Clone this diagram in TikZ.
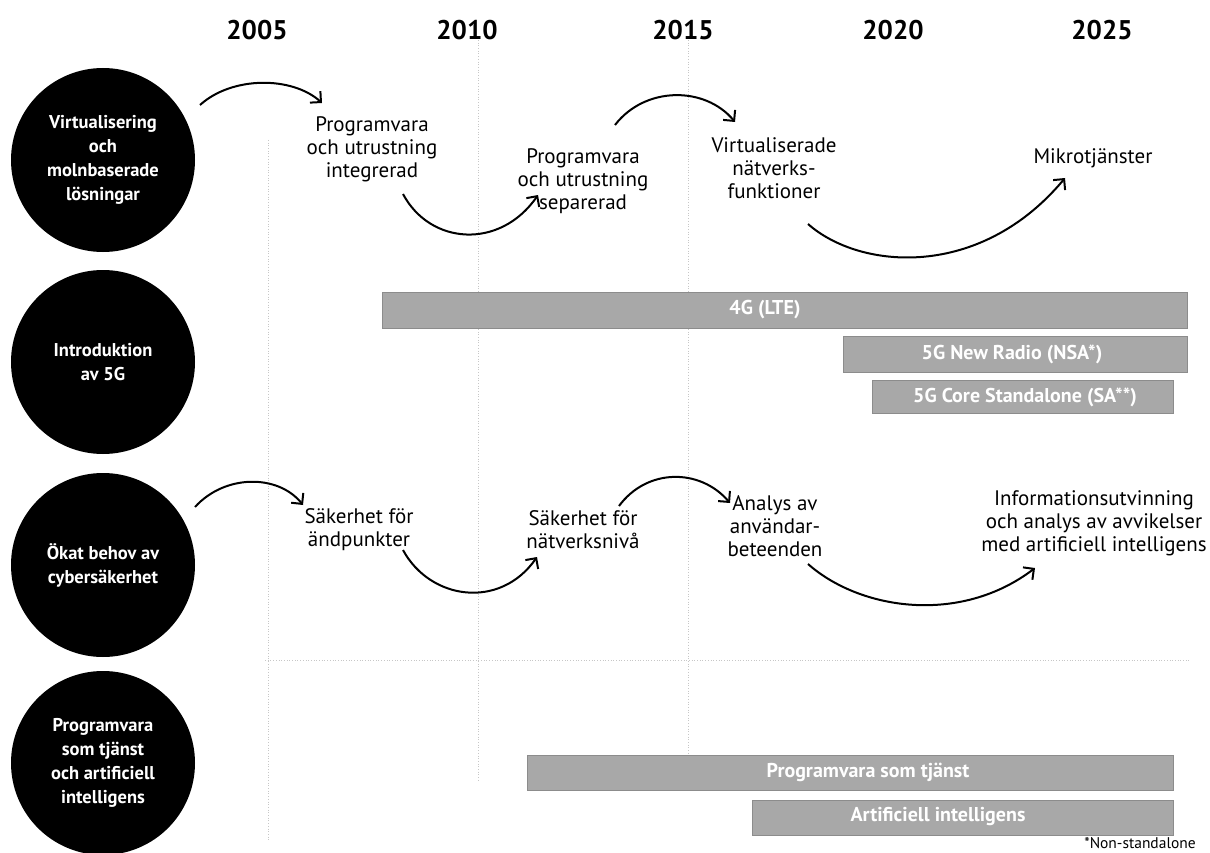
\documentclass[tikz,border=0pt]{standalone}
\usepackage{fontspec}
\setmainfont{PT Sans}
\usetikzlibrary{arrows.meta}
\tikzset{
  circ/.style={circle, fill=black, text=white, minimum size=184pt, inner sep=0pt, align=center,
    font=\bfseries\fontsize{18.5}{24}\selectfont},
  yearlbl/.style={font=\bfseries\fontsize{27}{28}\selectfont},
  stage/.style={align=center, font=\fontsize{21}{23}\selectfont, inner sep=0pt},
  bar/.style={fill=black!34, draw=black!45, line width=0.6pt, anchor=north west, inner sep=0pt},
  bartext/.style={text=white, font=\bfseries\fontsize{20}{22}\selectfont, inner sep=0pt},
  flow/.style={line width=2pt, -{Straight Barb[angle=90:11pt]}},
  grid/.style={black!22, dotted, line width=0.7pt}
}
\begin{document}
\begin{tikzpicture}[x=1pt, y=-1pt]
\useasboundingbox (0,0) rectangle (1210,853);

% faint grid
\draw[grid] (268,140) -- (268,840);
\draw[grid] (478,40) -- (478,780);
\draw[grid] (688,40) -- (688,760);
\draw[grid] (265,660) -- (1190,660);

% years
\node[yearlbl] (y2005) at (257,30) {2005};
\node[yearlbl] (y2010) at (467,30) {2010};
\node[yearlbl] (y2015) at (683,30) {2015};
\node[yearlbl] (y2020) at (893,30) {2020};
\node[yearlbl] (y2025) at (1102,30) {2025};

% circles
\node[circ] (c1) at (103,160) {Virtualisering\\och\\molnbaserade\\lösningar};
\node[circ] (c2) at (103,362) {Introduktion\\av 5G};
\node[circ] (c3) at (103,565) {Ökat behov av\\cybersäkerhet};
\node[circ] (c4) at (103,763) {Programvara\\som tjänst\\och artificiell\\intelligens};

% row 1 stages
\node[stage] (s11) at (372,149) {Programvara\\och utrustning\\integrerad};
\node[stage] (s12) at (583,181) {Programvara\\och utrustning\\separerad};
\node[stage] (s13) at (774,168) {Virtualiserade\\nätverks-\\funktioner};
\node[stage] (s14) at (1093,158) {Mikrotjänster};

% row 3 stages
\node[stage] (s31) at (359,530) {Säkerhet för\\ändpunkter};
\node[stage] (s32) at (583,530) {Säkerhet för\\nätverksnivå};
\node[stage] (s33) at (775,526) {Analys av\\användar-\\beteenden};
\node[stage] (s34) at (1094,523) {Informationsutvinning\\och analys av avvikelser\\med artificiell intelligens};

% arrow end points row 1
\coordinate (a1s) at (200,105); \coordinate (a1e) at (322,103);
\coordinate (a2s) at (403,194); \coordinate (a2e) at (538,195);
\coordinate (a3s) at (615,125); \coordinate (a3e) at (735,122);
\coordinate (a4s) at (808,224); \coordinate (a4e) at (1065,178);
\draw[flow] (a1s) .. controls (232,76) and (292,76) .. (a1e);
\draw[flow] (a2s) .. controls (430,245) and (500,250) .. (a2e);
\draw[flow] (a3s) .. controls (645,86) and (705,86) .. (a3e);
\draw[flow] (a4s) .. controls (860,270) and (980,280) .. (a4e);

% arrow end points row 3
\coordinate (b1s) at (195,507); \coordinate (b1e) at (303,505);
\coordinate (b2s) at (403,550); \coordinate (b2e) at (537,557);
\coordinate (b3s) at (619,506); \coordinate (b3e) at (730,503);
\coordinate (b4s) at (808,564); \coordinate (b4e) at (1035,568);
\draw[flow] (b1s) .. controls (225,474) and (278,474) .. (b1e);
\draw[flow] (b2s) .. controls (430,600) and (500,610) .. (b2e);
\draw[flow] (b3s) .. controls (647,468) and (700,468) .. (b3e);
\draw[flow] (b4s) .. controls (860,610) and (960,625) .. (b4e);

% bars row 2
\node[bar, minimum width=805pt, minimum height=36pt] (g4) at (382,292) {};
\node[bartext] (g4t) at (765,310) {4G (LTE)};
\node[bar, minimum width=344pt, minimum height=36pt] (g5nr) at (843,336) {};
\node[bartext] (g5nrt) at (1012,354) {5G New Radio (NSA*)};
\node[bar, minimum width=301pt, minimum height=33pt] (g5sa) at (872,380) {};
\node[bartext] (g5sat) at (1025,397) {5G Core Standalone (SA**)};

% bars row 4
\node[bar, minimum width=646pt, minimum height=35pt] (saas) at (527,755) {};
\node[bartext] (saast) at (868,772) {Programvara som tjänst};
\node[bar, minimum width=421pt, minimum height=35pt] (ai) at (752,800) {};
\node[bartext] (ait) at (938,817) {Artificiell intelligens};

% footnote
\node[anchor=south, font=\fontsize{15.5}{17}\selectfont, inner sep=0pt] (fn) at (1140,849) {*Non-standalone};
\end{tikzpicture}
\end{document}
